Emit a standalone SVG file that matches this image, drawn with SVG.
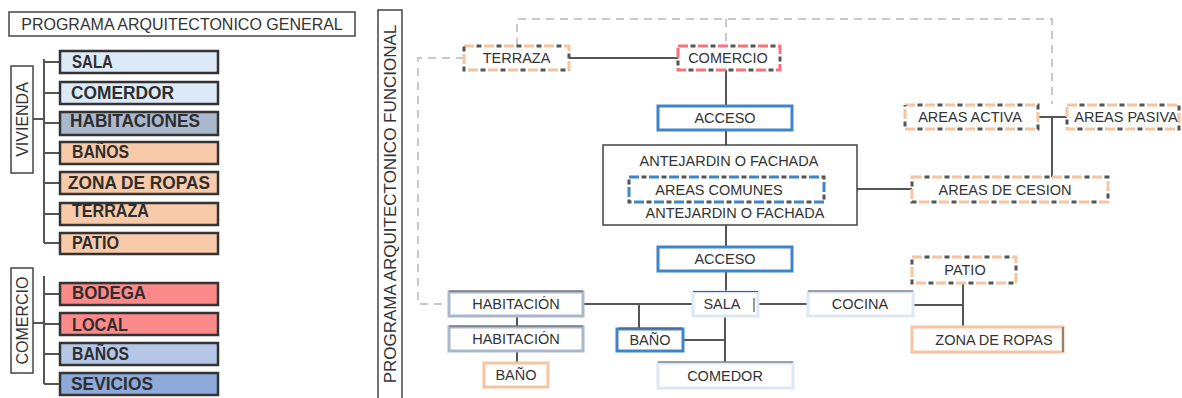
<svg xmlns="http://www.w3.org/2000/svg" width="1182" height="398" viewBox="0 0 1182 398">
<style>
text{font-family:"Liberation Sans",Arial,sans-serif}
.lbl{font-size:14.5px;fill:#333;text-anchor:middle}
.lst{font-size:17.5px;fill:#2e2e2e;font-weight:bold}
.vt{font-size:16px;fill:#333;text-anchor:middle}
.ln{stroke:#555;stroke-width:2;fill:none}
.gd{stroke:#c9c9c9;stroke-width:2;stroke-dasharray:8 6;fill:none}
.lb{stroke:#333;stroke-width:2.5}
.box{fill:#fff;stroke:#444;stroke-width:1.5}
.dk{fill:none;stroke:#555;stroke-width:3;stroke-dasharray:5 15;stroke-dashoffset:7.5}
.pe{fill:#fff;stroke:#f6c4a0;stroke-width:3;stroke-dasharray:10 10}
.re{fill:#fff;stroke:#f4737c;stroke-width:3;stroke-dasharray:10 10}
.bl{fill:#fff;stroke:#3f86c8;stroke-width:3;stroke-dasharray:10 10}
.acc{fill:#fff;stroke:#3f86c8;stroke-width:3}
.lbx{fill:#fff;stroke:#dce8f5;stroke-width:3}
.hbx{fill:#fff;stroke:#a9b7cc;stroke-width:3}
.pbx{fill:#fff;stroke:#f6c4a0;stroke-width:3}
.top{stroke:#555;stroke-width:1.2}
</style>

<!-- LEFT PANEL -->
<g id="title-general">
<rect x="9" y="12" width="346" height="24" class="box" stroke-width="2"/>
<text x="182" y="30" style="font-size:16px;fill:#333;text-anchor:middle">PROGRAMA ARQUITECTONICO GENERAL</text>
</g>

<g id="left-connectors">
<path class="ln" d="M44 59 V243 M44 62 H60 M44 93 H60 M44 123 H60 M44 153 H60 M44 183 H60 M44 214 H60 M44 243 H60 M33 119 H44"/>
<path class="ln" d="M44 276 V384 M44 294 H60 M44 324 H60 M44 354 H60 M44 384 H60 M33 323 H44"/>
</g>

<g id="vivienda">
<rect x="11" y="66" width="22" height="107" class="box" stroke-width="2"/>
<text class="vt" transform="translate(27.5 119.5) rotate(-90)">VIVIENDA</text>
</g>
<g id="comercio-l">
<rect x="11" y="268" width="22" height="105" class="box" stroke-width="2"/>
<text class="vt" transform="translate(27.5 320.5) rotate(-90)">COMERCIO</text>
</g>

<g id="l-sala"><rect x="60" y="51" width="158" height="22" fill="#dce9f6" class="lb"/><text class="lst" x="72" y="68" textLength="41" lengthAdjust="spacingAndGlyphs">SALA</text></g>
<g id="l-comerdor"><rect x="60" y="82" width="158" height="22" fill="#dce9f6" class="lb"/><text class="lst" x="71" y="99" textLength="103" lengthAdjust="spacingAndGlyphs">COMERDOR</text></g>
<g id="l-habitaciones"><rect x="60" y="112" width="158" height="23" fill="#aab8cc" class="lb"/><text class="lst" x="70" y="127" textLength="130" lengthAdjust="spacingAndGlyphs">HABITACIONES</text></g>
<g id="l-banos"><rect x="60" y="142" width="158" height="22" fill="#f8caa9" class="lb"/><text class="lst" x="72" y="158" textLength="57" lengthAdjust="spacingAndGlyphs">BAÑOS</text></g>
<g id="l-zona"><rect x="60" y="172" width="158" height="22" fill="#f8caa9" class="lb"/><text class="lst" x="68" y="189" textLength="142" lengthAdjust="spacingAndGlyphs">ZONA DE ROPAS</text></g>
<g id="l-terraza"><rect x="60" y="203" width="158" height="22" fill="#f8caa9" class="lb"/><text class="lst" x="72" y="217" textLength="77" lengthAdjust="spacingAndGlyphs">TERRAZA</text></g>
<g id="l-patio"><rect x="60" y="233" width="158" height="21" fill="#f8caa9" class="lb"/><text class="lst" x="72" y="249" textLength="47" lengthAdjust="spacingAndGlyphs">PATIO</text></g>

<g id="l-bodega"><rect x="60" y="283" width="158" height="22" fill="#fc8a8a" class="lb"/><text class="lst" x="72" y="299" textLength="74" lengthAdjust="spacingAndGlyphs">BODEGA</text></g>
<g id="l-local"><rect x="60" y="313" width="158" height="22" fill="#fc8a8a" class="lb"/><text class="lst" x="72" y="331" textLength="56" lengthAdjust="spacingAndGlyphs">LOCAL</text></g>
<g id="l-banos2"><rect x="60" y="343" width="158" height="22" fill="#b4c7e7" class="lb"/><text class="lst" x="72" y="360" textLength="57" lengthAdjust="spacingAndGlyphs">BAÑOS</text></g>
<g id="l-sevicios"><rect x="60" y="373" width="158" height="22" fill="#8eaadb" class="lb"/><text class="lst" x="71" y="390" textLength="82" lengthAdjust="spacingAndGlyphs">SEVICIOS</text></g>

<!-- RIGHT PANEL -->
<g id="title-funcional">
<rect x="378" y="10" width="24" height="390" class="box" stroke-width="2"/>
<text transform="translate(396 204) rotate(-90)" style="font-size:17px;fill:#333;text-anchor:middle">PROGRAMA ARQUITECTONICO FUNCIONAL</text>
</g>

<g id="connectors">
<path class="gd" d="M464 58 H418 V304 H446"/>
<path class="gd" d="M517 46 V19 H1052 V104"/>
<path class="gd" d="M726 19 V46"/>
<path class="ln" d="M569 58 H678"/>
<path class="ln" d="M726 70 V106 M726 130 V145 M726 225 V247 M726 271 V292 M725 316 V363"/>
<path class="ln" d="M683 340 H725"/>
<path class="ln" d="M583 304 H693 M639 304 V329"/>
<path class="ln" d="M517 316 V327 M517 351 V363"/>
<path class="ln" d="M758 304 H808 M913 305 H963 M963 283 V327"/>
<path class="ln" d="M857 189 H912"/>
<path class="ln" d="M1038 117 H1067 M1052 117 V177"/>
</g>

<g id="terraza"><rect x="464" y="46" width="105" height="24" class="pe"/><rect x="464" y="46" width="105" height="24" class="dk"/><text class="lbl" x="516.5" y="63">TERRAZA</text></g>
<g id="comercio"><rect x="678" y="46" width="102" height="24" class="re"/><rect x="678" y="46" width="102" height="24" class="dk"/><text class="lbl" x="728" y="63">COMERCIO</text></g>
<g id="acceso1"><rect x="658" y="106" width="134" height="24" class="acc"/><text class="lbl" x="725" y="123">ACCESO</text></g>
<g id="areas-activa"><rect x="905" y="105" width="133" height="24" class="pe"/><rect x="905" y="105" width="133" height="24" class="dk"/><text class="lbl" x="970" y="122">AREAS ACTIVA</text></g>
<g id="areas-pasiva"><rect x="1067" y="105" width="112" height="24" class="pe"/><rect x="1067" y="105" width="112" height="24" class="dk"/><text class="lbl" x="1126" y="122">AREAS PASIVA</text></g>

<g id="antejardin">
<rect x="603" y="145" width="254" height="80" class="box"/>
<text class="lbl" x="729" y="166">ANTEJARDIN O FACHADA</text>
<text class="lbl" x="735" y="218">ANTEJARDIN O FACHADA</text>
</g>
<g id="areas-comunes"><rect x="629" y="177" width="195" height="25" class="bl"/><rect x="629" y="177" width="195" height="25" class="dk"/><text class="lbl" x="719" y="194.5">AREAS COMUNES</text></g>
<g id="areas-cesion"><rect x="912" y="177" width="196" height="25" class="pe"/><rect x="912" y="177" width="196" height="25" class="dk"/><text class="lbl" x="1005" y="194.5">AREAS DE CESION</text></g>

<g id="acceso2"><rect x="658" y="247" width="134" height="24" class="acc"/><text class="lbl" x="725" y="264">ACCESO</text></g>
<g id="sala"><rect x="693" y="292" width="65" height="24" class="lbx"/><path class="top" d="M693 291.5 H758 M754 298 V312"/><text class="lbl" x="722" y="309">SALA</text></g>
<g id="habitacion1"><rect x="449" y="292" width="134" height="24" class="hbx"/><path class="top" d="M449 291 H583"/><text class="lbl" x="516" y="309">HABITACIÓN</text></g>
<g id="habitacion2"><rect x="449" y="327" width="134" height="24" class="hbx"/><path class="top" d="M449 326 H583"/><text class="lbl" x="516" y="344">HABITACIÓN</text></g>
<g id="bano-hab"><rect x="484" y="363" width="64" height="24" class="pbx"/><text class="lbl" x="516" y="380">BAÑO</text></g>
<g id="bano"><rect x="617" y="329" width="66" height="22" class="acc"/><path class="top" d="M619 328 H682"/><text class="lbl" x="650" y="345">BAÑO</text></g>
<g id="comedor"><rect x="658" y="363" width="135" height="25" class="lbx"/><path class="top" d="M658 362 H793"/><text class="lbl" x="725" y="381">COMEDOR</text></g>
<g id="cocina"><rect x="808" y="292" width="105" height="24" class="lbx"/><path class="top" d="M808 291 H913"/><text class="lbl" x="860" y="309">COCINA</text></g>
<g id="patio"><rect x="912" y="257" width="104" height="26" class="pe"/><rect x="912" y="257" width="104" height="26" class="dk"/><text class="lbl" x="965" y="275">PATIO</text></g>
<g id="zona-ropas"><rect x="912" y="327" width="151" height="25" class="pbx"/><path class="top" d="M1063 327 V352"/><text class="lbl" x="994" y="345">ZONA DE ROPAS</text></g>
</svg>
